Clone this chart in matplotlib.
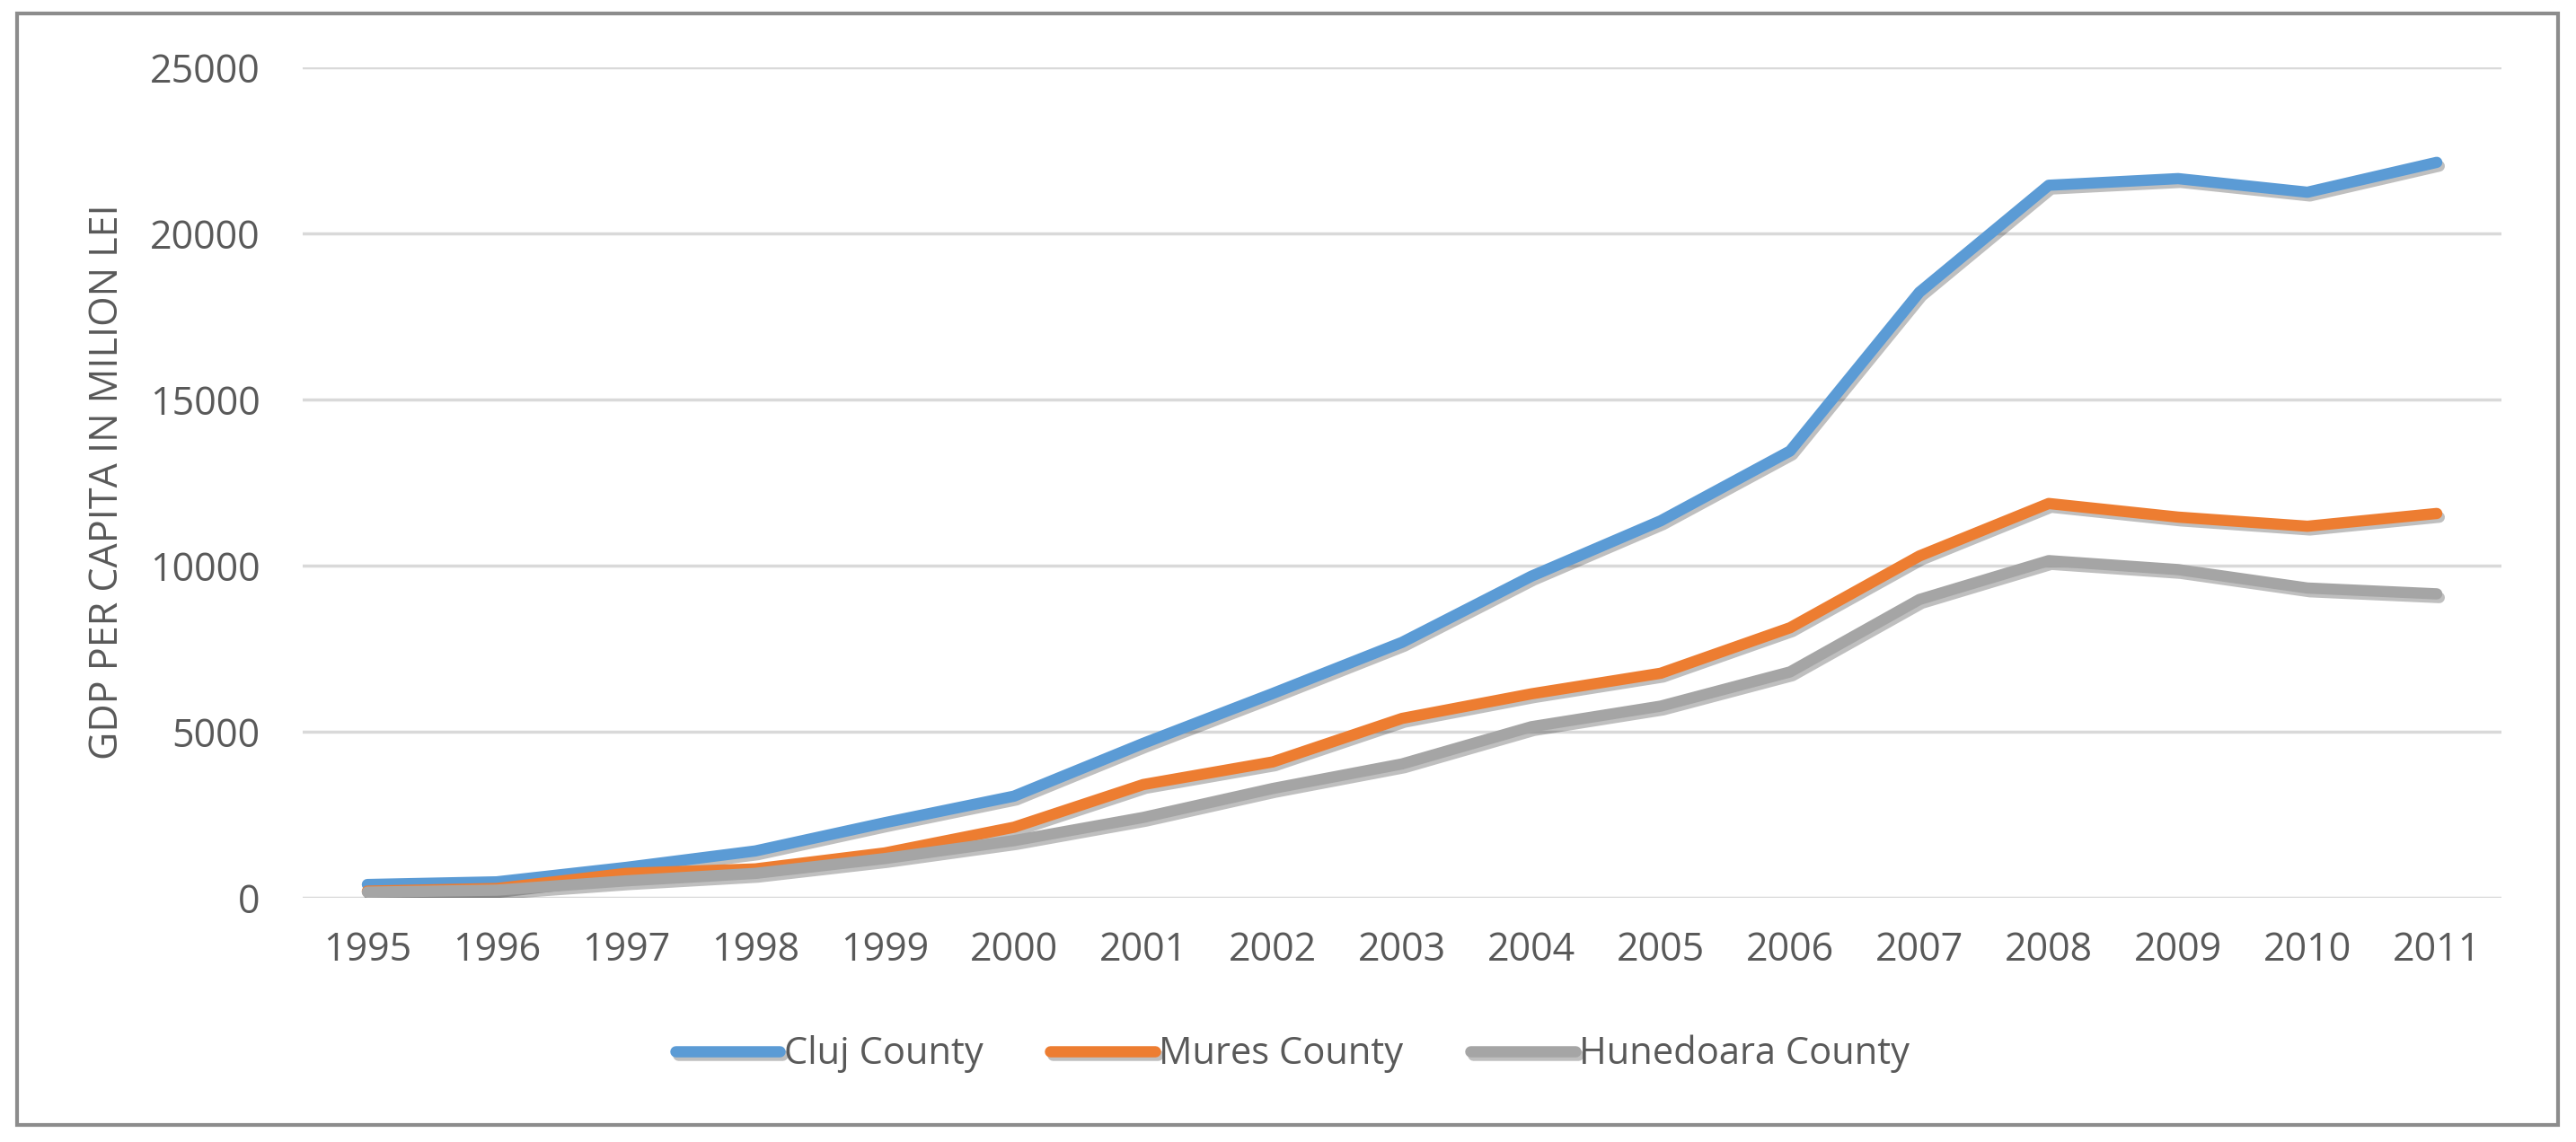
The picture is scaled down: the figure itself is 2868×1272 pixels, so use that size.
import matplotlib
matplotlib.use("Agg")
import matplotlib.pyplot as plt
import matplotlib.patheffects as pe
from matplotlib.patches import Rectangle
import numpy as np

# GDP per capita (million lei)
years = ["1995", "1996", "1997", "1998", "1999", "2000", "2001", "2002", "2003",
         "2004", "2005", "2006", "2007", "2008", "2009", "2010", "2011"]
cluj = [400, 480, 915, 1410, 2260, 3060, 4650, 6150, 7690,
        9680, 11350, 13450, 18230, 21450, 21650, 21240, 22140]
mures = [200, 280, 735, 870, 1350, 2125, 3410, 4090, 5400,
         6140, 6760, 8130, 10290, 11870, 11460, 11185, 11570]
hunedoara = [170, 230, 510, 735, 1180, 1720, 2420, 3290, 4030,
             5150, 5770, 6800, 8980, 10150, 9880, 9325, 9150]

series = [
    ("Cluj County", cluj, "#5B9BD5"),
    ("Mures County", mures, "#ED7D31"),
    ("Hunedoara County", hunedoara, "#A5A5A5"),
]

W, H = 2868, 1272
fig = plt.figure(figsize=(W / 100, H / 100), dpi=100)
ax = fig.add_axes([337 / W, 1 - 1000 / H, (2785 - 337) / W, (1000 - 75) / H])

x = np.arange(len(years))
shadow = [pe.SimpleLineShadow(offset=(2, -3), shadow_color="black", alpha=0.25),
          pe.Normal()]
handles = []
for name, values, color in series:
    (line,) = ax.plot(x, values, color=color, lw=9, label=name,
                      solid_capstyle="round", solid_joinstyle="round",
                      path_effects=shadow)
    handles.append(line)

ax.set_xlim(-0.5, len(years) - 0.5)
ax.set_ylim(0, 25000)
ax.set_yticks(np.arange(0, 25001, 5000))
ax.set_xticks(x)
ax.set_xticklabels(years)
ax.grid(axis="y", color="#D9D9D9", lw=2.5)
ax.set_axisbelow(True)
for s in ax.spines.values():
    s.set_visible(False)
ax.tick_params(axis="both", length=0, labelcolor="#595959", labelsize=31)
ax.tick_params(axis="y", pad=34)
ax.tick_params(axis="x", pad=26)
for lab in ax.get_xticklabels() + ax.get_yticklabels():
    lab.set_family(["Open Sans", "DejaVu Sans"])

fig.text(120 / W, 1 - 537 / H, "GDP PER CAPITA IN MILION LEI", rotation=90,
         ha="center", va="center", color="#595959", fontsize=31,
         family=["Open Sans", "DejaVu Sans"])

leg = fig.legend(handles=handles, loc="center", ncol=3,
                 bbox_to_anchor=(1439 / W, 1 - 1174 / H), frameon=False,
                 prop={"family": ["Open Sans", "DejaVu Sans"], "size": 30},
                 handlelength=2.8, handletextpad=0.1, columnspacing=1.8)
for t in leg.get_texts():
    t.set_color("#595959")

fig.patches.append(Rectangle((19 / W, 1 - 1253 / H), (2848 - 19) / W, (1253 - 15) / H,
                             transform=fig.transFigure, fill=False,
                             edgecolor="#8C8C8C", lw=3))

fig.savefig("out.png", dpi=100)
